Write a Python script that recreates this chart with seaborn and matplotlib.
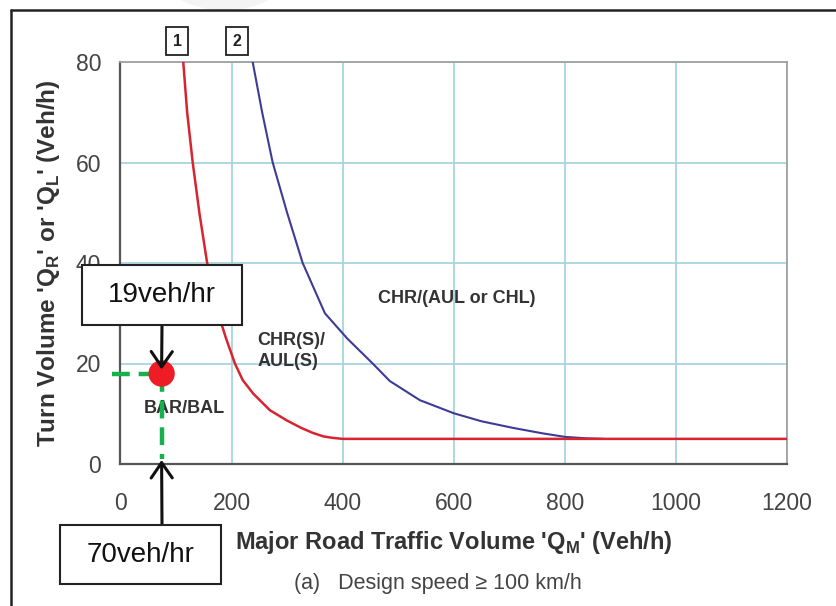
import matplotlib.pyplot as plt
import matplotlib.transforms as mtransforms
import seaborn as sns
from matplotlib.patches import Rectangle, Circle
from matplotlib.lines import Line2D

# curva 1 (vermelha) - limite BAR/BAL
curva1_x = [113, 120, 130, 142, 156, 174, 190, 206, 220, 239, 269, 299, 325, 346, 365, 382, 400, 1200]
curva1_y = [80, 70, 60, 50, 40, 30.6, 25, 20, 16.7, 14, 10.7, 8.7, 7.2, 6.2, 5.5, 5.2, 5, 5]

# curva 2 (azul) - limite CHR(S)/AUL(S)
curva2_x = [238, 255, 274, 300, 328, 368, 408, 454, 485, 539, 600, 650, 706, 760, 800, 840, 870]
curva2_y = [80, 70, 60, 50, 40, 30, 25, 20, 16.5, 12.7, 10.1, 8.5, 7.2, 6.1, 5.4, 5.1, 5]

# ponto analisado
ponto_x = [74]
ponto_y = [18]
rotulo_y = '19veh/hr'
rotulo_x = '70veh/hr'

xticks = [0, 200, 400, 600, 800, 1000, 1200]
yticks = [0, 20, 40, 60, 80]

sns.set_style('white')
plt.rcParams['font.family'] = ['Liberation Sans', 'DejaVu Sans']
plt.rcParams['mathtext.fontset'] = 'custom'
plt.rcParams['mathtext.rm'] = 'Liberation Sans'
plt.rcParams['mathtext.bf'] = 'Liberation Sans:bold'

W, H = 836, 606
fig = plt.figure(figsize=(W / 100, H / 100), dpi=100)
ax = fig.add_axes([120.5 / W, 1 - 464 / H, 666.5 / W, 402 / H])

# moldura e marca d'agua
fig.patches.append(Circle((225 / W, 1 + 45 / H), 0.09, transform=fig.transFigure,
                          color='#f4f4f4', zorder=0))
fig.lines.append(Line2D([11 / W, 1], [1 - 10 / H, 1 - 10 / H], transform=fig.transFigure,
                        color='#222222', lw=1.8))
fig.lines.append(Line2D([11 / W, 11 / W], [0, 1 - 10 / H], transform=fig.transFigure,
                        color='#222222', lw=1.8))

sns.lineplot(x=curva2_x, y=curva2_y, ax=ax, sort=False, estimator=None,
             color='#3c3c96', lw=1.5, zorder=3)
sns.lineplot(x=curva1_x, y=curva1_y, ax=ax, sort=False, estimator=None,
             color='#d8242f', lw=1.8, zorder=4)

ax.set_xlim(0, 1200)
ax.set_ylim(0, 80)
ax.set_xticks(xticks)
ax.set_yticks(yticks)
ax.grid(True, color='#a8d4df', lw=1.3)
ax.set_axisbelow(True)
for s in ['left', 'bottom']:
    ax.spines[s].set_color('#555555')
    ax.spines[s].set_linewidth(1.6)
for s in ['top', 'right']:
    ax.spines[s].set_color('#a0a0a0')
    ax.spines[s].set_linewidth(1.3)
ax.tick_params(axis='x', direction='out', length=7, width=1.5, color='#555555',
               labelsize=16.5, labelcolor='#444444', pad=13)
ax.tick_params(axis='y', direction='out', length=7, width=1.5, color='#555555',
               labelsize=16.5, labelcolor='#444444', pad=7)

ax.set_xlabel("Major Road Traffic Volume 'Q$_\\mathbf{M}$' (Veh/h)", fontsize=17,
              fontweight='bold', color='#333333', va='center')
ax.set_ylabel("Turn Volume 'Q$_\\mathbf{R}$' or 'Q$_\\mathbf{L}$' (Veh/h)", fontsize=17.5,
              fontweight='bold', color='#333333', va='center')
ax.xaxis.set_label_coords(0.5, (464 - 542) / 402)
ax.yaxis.set_label_coords((49 - 120.5) / 666.5, 0.5)
fig.text(438 / W, 1 - 583 / H, '(a)   Design speed \u2265 100 km/h', fontsize=15.5,
         color='#444444', ha='center', va='center')

# rotulos das regioes
reg = dict(fontsize=13, fontweight='bold', color='#333333', va='center', ha='left')
ax.text(463, 33, 'CHR/(AUL or CHL)', **reg)
ax.text(246, 22.5, 'CHR(S)/\nAUL(S)', linespacing=1.25, **reg)
ax.text(41, 11.1, 'BAR/BAL', **reg)

# caixas 1 e 2
trans = mtransforms.blended_transform_factory(ax.transData, ax.transAxes)
for xx, lab in [(102, '1'), (210, '2')]:
    ax.text(xx, 1.052, lab, transform=trans, ha='center', va='center', fontsize=11.5,
            fontweight='bold', color='#222222', clip_on=False,
            bbox=dict(boxstyle='square,pad=0.42', fc='white', ec='#222222', lw=1.3))

# linhas tracejadas verdes
ax.plot([-15, ponto_x[0]], [ponto_y[0], ponto_y[0]], color='#16b04c', lw=3.2,
        dashes=(4, 2), clip_on=False, zorder=5)
ax.plot([ponto_x[0], ponto_x[0]], [ponto_y[0], 1], color='#16b04c', lw=3.2,
        dashes=(4, 2), zorder=5)
sns.scatterplot(x=ponto_x, y=ponto_y, ax=ax, color='#ee1c24', s=360, edgecolor='none',
                zorder=6)

# caixas de texto com setas
for (x0, y0, w, h), txt in [((82, 265, 160, 60), rotulo_y), ((60, 525, 161, 59), rotulo_x)]:
    fig.patches.append(Rectangle((x0 / W, 1 - (y0 + h) / H), w / W, h / H,
                                 transform=fig.transFigure, fc='white', ec='#222222',
                                 lw=1.5, zorder=10))
    fig.text((x0 + w / 2) / W, 1 - (y0 + h / 2) / H, txt, fontsize=20, color='#111111',
             ha='center', va='center', zorder=11)

seta = dict(arrowstyle='->,head_length=0.55,head_width=0.38', color='#111111', lw=2.2,
            mutation_scale=20, shrinkA=0, shrinkB=0)
ax.annotate('', xy=(ponto_x[0], ponto_y[0] + 0.8), xycoords='data',
            xytext=(162 / W, 1 - 325 / H), textcoords='figure fraction',
            arrowprops=seta, zorder=12)
ax.annotate('', xy=(ponto_x[0], 0.8), xycoords='data',
            xytext=(162 / W, 1 - 525 / H), textcoords='figure fraction',
            arrowprops=seta, zorder=12, annotation_clip=False)

plt.savefig('out.png', dpi=100)
